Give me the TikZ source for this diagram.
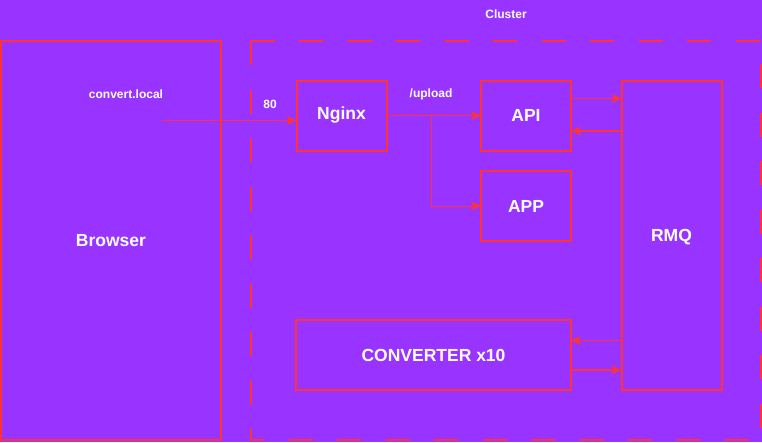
\documentclass[tikz,border=0pt]{standalone}
\usepackage{fontspec}
\setmainfont{Liberation Sans}
\usetikzlibrary{arrows.meta,calc}
\definecolor{bgpurple}{HTML}{9933FF}
\definecolor{linered}{HTML}{FF3333}
\tikzset{
  box/.style={draw=linered, line width=2pt, inner sep=0pt, outer sep=0pt, text=white,
    font=\fontsize{17.5}{20}\selectfont\bfseries},
  lbl/.style={text=white, inner sep=0pt, font=\fontsize{12}{14}\selectfont\bfseries},
  conn/.style={draw=linered, line width=1.5pt, -{Stealth[length=10pt,width=9pt,inset=2.5pt]}},
  thinconn/.style={draw=linered, line width=0.9pt, -{Stealth[length=10pt,width=9pt,inset=2.5pt]}},
}
\begin{document}
\begin{tikzpicture}[x=1pt,y=-1pt]
\fill[bgpurple] (0,0) rectangle (762,442);
\useasboundingbox (0,0) rectangle (762,442);
% containers
\node[box, minimum width=220pt, minimum height=399pt] (browser) at (111,240.5) {Browser};
\draw[linered, line width=2pt, dash pattern=on 24pt off 24.5pt] (251,41) rectangle (761,440);
\node[lbl] (cluster) at (506,14) {Cluster};
% nodes
\node[box, minimum width=90pt, minimum height=70pt] (nginx) at (341.5,115.5) {Nginx};
\node[box, minimum width=90pt, minimum height=70pt] (api) at (526,115.5) {API};
\node[box, minimum width=90pt, minimum height=70pt] (app) at (526,206) {APP};
\node[box, minimum width=100pt, minimum height=309pt, text depth=0pt, text height=12.5pt] (rmq) at (671.5,235.5) {RMQ};
\node[box, minimum width=275pt, minimum height=70pt] (conv) at (433.5,355) {CONVERTER x10};
% labels
\node[lbl] (host) at (126,94) {convert.local};
\node[lbl] (port) at (270,104) {80};
\node[lbl] (path) at (431,94) {/upload};
% connectors
\coordinate (bsrc) at (162,120.5);
\draw[conn] (bsrc) -- (bsrc -| nginx.west);
\draw[thinconn] (nginx.east) -- (api.west);
\draw[thinconn] (nginx.east) -- ++(44.5,0) |- (app.west);
\draw[conn] ([yshift=-18pt]api.north east) -- ([yshift=-18pt]api.north east -| rmq.west);
\draw[conn] ([yshift=-50.5pt]api.north east -| rmq.west) -- ([yshift=-50.5pt]api.north east);
\draw[conn] ([yshift=-20.5pt]conv.north east -| rmq.west) -- ([yshift=-20.5pt]conv.north east);
\draw[conn] ([yshift=-50pt]conv.north east) -- ([yshift=-50pt]conv.north east -| rmq.west);
\end{tikzpicture}
\end{document}
